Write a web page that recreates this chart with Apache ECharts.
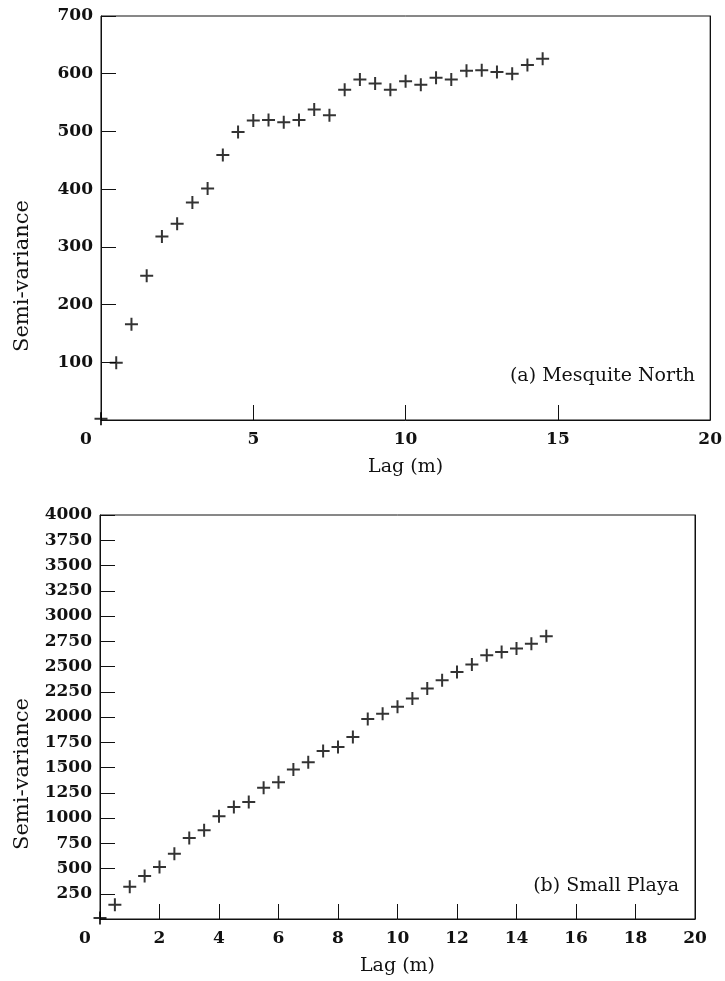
<!DOCTYPE html>
<html>
<head>
<meta charset="utf-8">
<script src="https://cdn.jsdelivr.net/npm/echarts@6/dist/echarts.min.js"></script>
<style>
html,body{margin:0;padding:0;background:#fff;}
#chart{width:725px;height:981px;}
</style>
</head>
<body>
<div id="chart"></div>
<script>
// Panel (a) Mesquite North
const lagA = [0, 0.5, 1, 1.5, 2, 2.5, 3, 3.5, 4, 4.5, 5, 5.5, 6, 6.5, 7, 7.5, 8, 8.5, 9, 9.5, 10, 10.5, 11, 11.5, 12, 12.5, 13, 13.5, 14, 14.5];
const semiA = [2, 99, 166, 250, 318, 340, 377, 401, 459, 499, 519, 520, 516, 520, 538, 528, 572, 590, 583, 572, 587, 581, 593, 590, 605, 606, 603, 600, 615, 626];
// Panel (b) Small Playa
const lagB = [0, 0.5, 1, 1.5, 2, 2.5, 3, 3.5, 4, 4.5, 5, 5.5, 6, 6.5, 7, 7.5, 8, 8.5, 9, 9.5, 10, 10.5, 11, 11.5, 12, 12.5, 13, 13.5, 14, 14.5, 15];
const semiB = [10, 140, 320, 425, 515, 647, 802, 878, 1017, 1109, 1159, 1300, 1353, 1479, 1551, 1664, 1703, 1802, 1980, 2033, 2102, 2182, 2281, 2363, 2446, 2519, 2611, 2644, 2677, 2726, 2799];

const xTicksA = {min: 0, max: 20, interval: 5};
const yTicksA = {min: 0, max: 700, interval: 100};
const xTicksB = {min: 0, max: 20, interval: 2};
const yTicksB = {min: 0, max: 4000, interval: 250};

const xTitle = 'Lag (m)';
const yTitle = 'Semi-variance';
const labelA = '(a) Mesquite North';
const labelB = '(b) Small Playa';

const FONT = '"DejaVu Serif", "Liberation Serif", serif';
const plus = 'path://M5.5,0H7.5V5.5H13V7.5H7.5V13H5.5V7.5H0V5.5H5.5Z';

const chart = echarts.init(document.getElementById('chart'), null, {renderer: 'canvas'});

function xAxisCfg(gi, t, gap) {
  return {
    type: 'value', gridIndex: gi, min: t.min, max: t.max, interval: t.interval,
    name: xTitle, nameLocation: 'middle', nameGap: gap,
    nameTextStyle: {fontFamily: FONT, fontSize: 19, color: '#111'},
    axisLine: {show: true, lineStyle: {color: '#111', width: 1}},
    axisTick: {show: true, inside: true, length: 15, lineStyle: {color: '#111', width: 1}},
    splitLine: {show: false},
    axisLabel: {
      fontFamily: FONT, fontSize: 17, fontWeight: 'bold', color: '#111', margin: 11,
      formatter: v => v === 0 ? '{z|0}' : String(v),
      rich: {z: {fontFamily: FONT, fontSize: 17, fontWeight: 'bold', color: '#111', padding: [0, 30, 0, 0]}}
    }
  };
}
function yAxisCfg(gi, t) {
  return {
    type: 'value', gridIndex: gi, min: t.min, max: t.max, interval: t.interval,
    axisLine: {show: true, lineStyle: {color: '#111', width: 1}},
    axisTick: {show: true, inside: true, length: 15, lineStyle: {color: '#111', width: 1}},
    splitLine: {show: false},
    axisLabel: {
      fontFamily: FONT, fontSize: 17, fontWeight: 'bold', color: '#111', margin: 8,
      formatter: v => v === 0 ? '' : String(v)
    }
  };
}
function frameAxis(gi, t) {
  return {
    type: 'value', gridIndex: gi, position: 'right', min: t.min, max: t.max, interval: t.interval,
    axisLine: {show: true, lineStyle: {color: '#111', width: 1}},
    axisTick: {show: false}, axisLabel: {show: false}, splitLine: {show: false}
  };
}

chart.setOption({
  animation: false,
  backgroundColor: '#fff',
  grid: [
    {left: 101, right: 13, top: 16, height: 404, show: true, borderColor: '#111', borderWidth: 1},
    {left: 100, right: 30, top: 515, height: 404, show: true, borderColor: '#111', borderWidth: 1}
  ],
  xAxis: [xAxisCfg(0, xTicksA, 38), xAxisCfg(1, xTicksB, 38)],
  yAxis: [yAxisCfg(0, yTicksA), yAxisCfg(1, yTicksB), frameAxis(0, yTicksA), frameAxis(1, yTicksB)],
  series: [
    {
      type: 'scatter', xAxisIndex: 0, yAxisIndex: 0, clip: false,
      symbol: plus, symbolSize: 13, itemStyle: {color: '#000'},
      data: lagA.map((x, i) => [x, semiA[i]])
    },
    {
      type: 'scatter', xAxisIndex: 1, yAxisIndex: 1, clip: false,
      symbol: plus, symbolSize: 13, itemStyle: {color: '#000'},
      data: lagB.map((x, i) => [x, semiB[i]])
    }
  ],
  graphic: [
    {type: 'text', x: 695, y: 376, style: {text: labelA, font: '19px ' + FONT, fill: '#111', align: 'right', verticalAlign: 'middle'}},
    {type: 'text', x: 679, y: 886, style: {text: labelB, font: '19px ' + FONT, fill: '#111', align: 'right', verticalAlign: 'middle'}},
    {type: 'text', x: 23, y: 276, rotation: Math.PI / 2, style: {text: yTitle, font: '21px ' + FONT, fill: '#111', align: 'center', verticalAlign: 'middle'}},
    {type: 'text', x: 23, y: 774, rotation: Math.PI / 2, style: {text: yTitle, font: '21px ' + FONT, fill: '#111', align: 'center', verticalAlign: 'middle'}}
  ]
});
</script>
</body>
</html>
